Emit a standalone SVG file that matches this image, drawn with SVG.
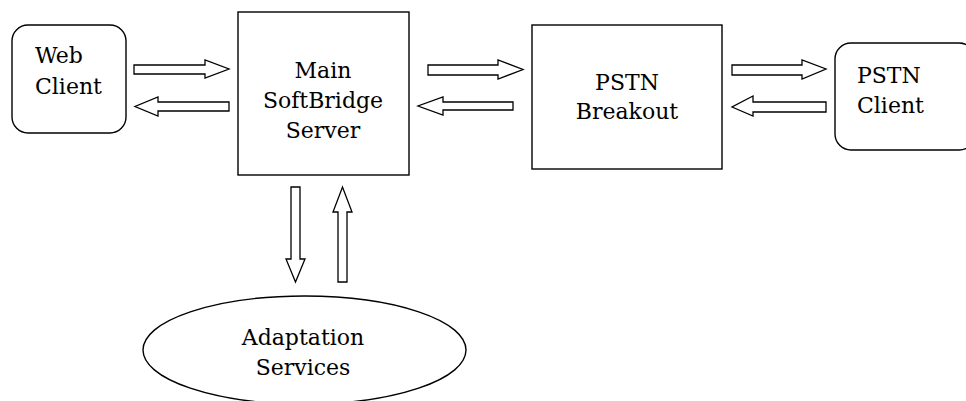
<svg xmlns="http://www.w3.org/2000/svg" width="966" height="401" viewBox="0 0 966 401">
<style>
.box{fill:#fff;stroke:#000;stroke-width:1.4}
.arr{fill:#fff;stroke:#000;stroke-width:1.3;stroke-linejoin:miter}
.t{font-family:'DejaVu Serif',serif;font-size:22px;fill:#000}
.c{text-anchor:middle}
</style>
<rect width="966" height="401" fill="#fff"/>
<g id="web-client">
<rect class="box" x="12" y="25" width="114" height="108" rx="16"/>
<text class="t" x="35" y="63">Web</text>
<text class="t" x="35" y="94">Client</text>
</g>
<g id="main-server">
<rect class="box" x="238" y="12" width="171" height="163"/>
<text class="t c" x="323" y="78">Main</text>
<text class="t c" x="323" y="108">SoftBridge</text>
<text class="t c" x="323" y="138">Server</text>
</g>
<g id="pstn-breakout">
<rect class="box" x="532" y="25" width="190" height="144"/>
<text class="t c" x="627" y="90">PSTN</text>
<text class="t c" x="627" y="119">Breakout</text>
</g>
<g id="pstn-client">
<rect class="box" x="835" y="43" width="140" height="107" rx="16"/>
<text class="t" x="857" y="83">PSTN</text>
<text class="t" x="857" y="113">Client</text>
</g>
<g id="adaptation-services">
<ellipse class="box" cx="304.5" cy="350" rx="161.5" ry="54"/>
<text class="t c" x="303" y="345">Adaptation</text>
<text class="t c" x="303" y="375">Services</text>
</g>
<g id="connectors">
<polygon class="arr" points="134,65 205,65 205,60 229,69 205,78 205,74 134,74"/>
<polygon class="arr" points="229,102 158,102 158,97 135,106.5 158,116 158,111 229,111"/>
<polygon class="arr" points="428,65 498,65 498,60 523,69.5 498,79 498,75 428,75"/>
<polygon class="arr" points="513,102 443,102 443,97 418,106 443,115 443,110 513,110"/>
<polygon class="arr" points="732,65 802,65 802,60 826,69 802,79 802,75 732,75"/>
<polygon class="arr" points="826,102 753,102 753,96 732,107 753,116 753,112 826,112"/>
<polygon class="arr" points="291,187 300,187 300,259 305,259 295.5,282 286,259 291,259"/>
<polygon class="arr" points="338,282 347,282 347,212 352,212 342.5,187 333,212 338,212"/>
</g>
</svg>
